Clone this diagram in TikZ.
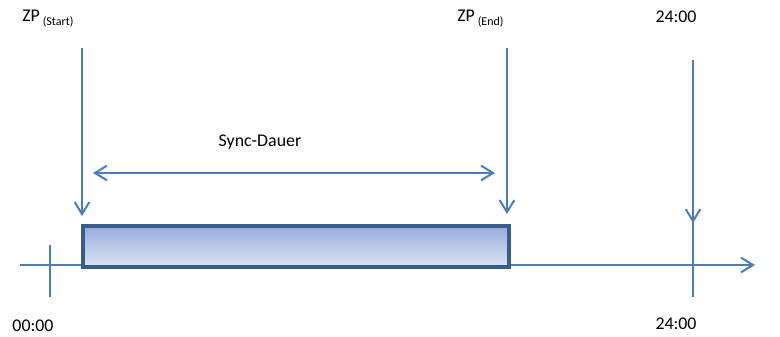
\documentclass[tikz,border=0pt]{standalone}
\usepackage{fontspec}
\setmainfont{Carlito}
\usetikzlibrary{arrows.meta}
\definecolor{lineblue}{HTML}{4A7EBB}
\definecolor{boxedge}{HTML}{385D8A}
\definecolor{boxtop}{HTML}{95ACDD}
\definecolor{boxbottom}{HTML}{DCE4F2}
\tikzset{
  barb/.tip={Straight Barb[length=9pt,width=11pt,line width=1.5pt]},
  timeline/.style={lineblue,line width=1.5pt,-barb},
  bothways/.style={lineblue,line width=1.5pt,barb-barb},
  label/.style={font=\fontsize{13.4}{16}\selectfont,inner sep=0pt}
}
\newcommand{\zpsub}[1]{ZP\,\raisebox{-0.45ex}{\fontsize{9}{10}\selectfont(#1)}}
\begin{document}
\begin{tikzpicture}[x=0.75pt,y=-0.75pt]
    \useasboundingbox (0,0) rectangle (780,336);
    \coordinate (t0) at (20,265);
    \coordinate (tend) at (755,265);
    \coordinate (starttop) at (82,48);
    \coordinate (startbot) at (82,216);
    \coordinate (endtop) at (507,48);
    \coordinate (endbot) at (507,214);
    \coordinate (daytop) at (693,60);
    \coordinate (dayarrow) at (693,223);
    \coordinate (daybot) at (693,297);

    % Zeitachse
    \draw[timeline] (t0) -- (tend);
    \draw[lineblue,line width=1.5pt] (50,245) coordinate (zero) -- (50,297);
    \draw[lineblue,line width=1.5pt] (daytop) -- (daybot);
    \draw[timeline] (daytop) -- (dayarrow);

    % Sync-Fenster
    \node[draw=boxedge,line width=3pt,top color=boxtop,bottom color=boxbottom,
          minimum width=426*0.75pt,minimum height=41*0.75pt,inner sep=0pt,anchor=north west]
          (sync) at (81,224) {};
    \draw[timeline] (starttop) -- (startbot);
    \draw[timeline] (endtop) -- (endbot);
    \coordinate (dleft) at (93,173);
    \coordinate (dright) at (495,173);
    \draw[bothways] (dleft) -- (dright);

    % Beschriftung
    \node[label,anchor=west] (zpstart) at (22,19) {\zpsub{Start}};
    \node[label,anchor=west] (zpend) at (457,19) {\zpsub{End}};
    \node[label] (daytoplabel) at (676,17) {24:00};
    \node[label] (dauer) at (260,142) {Sync-Dauer};
    \node[label] (zerolabel) at (33,326) {00:00};
    \node[label] (daybotlabel) at (676,324) {24:00};
\end{tikzpicture}
\end{document}
